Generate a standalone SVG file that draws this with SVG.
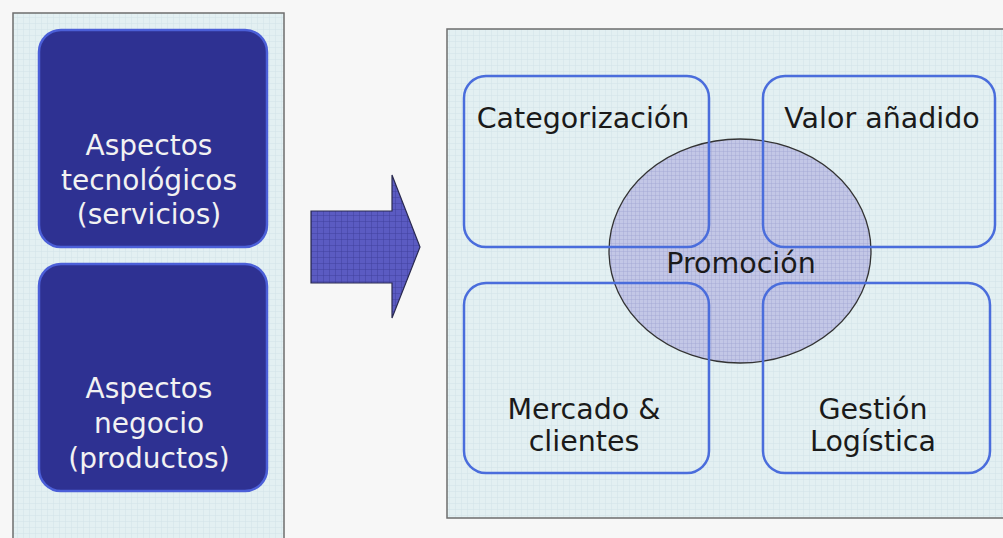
<svg xmlns="http://www.w3.org/2000/svg" width="1003" height="538" viewBox="0 0 1003 538">
  <defs>
    <pattern id="gridPanel" width="6" height="6" patternUnits="userSpaceOnUse">
      <rect width="6" height="6" fill="#e3f0f2"/>
      <path d="M6 0V6M0 6H6" stroke="#d2e3e8" stroke-width="1"/>
    </pattern>
    <pattern id="gridCircle" width="4" height="4" patternUnits="userSpaceOnUse">
      <rect width="4" height="4" fill="#c3c7e6"/>
      <path d="M4 0V4M0 4H4" stroke="#9ea3d2" stroke-width="0.8"/>
    </pattern>
    <pattern id="gridArrow" width="6" height="6" patternUnits="userSpaceOnUse">
      <rect width="6" height="6" fill="#5b5bc2"/>
      <path d="M6 0V6M0 6H6" stroke="#40409f" stroke-width="1"/>
    </pattern>
  </defs>
  <style>
    .panel { fill: url(#gridPanel); stroke: #6e6e6e; stroke-width: 1.5; }
    .dark { fill: #2e3192; stroke: #4b5fd8; stroke-width: 2.5; }
    .light { fill: none; stroke: #4a6ddc; stroke-width: 2.5; }
    .wt { font-family: "DejaVu Sans", Verdana, sans-serif; font-size: 28px; fill: #f2f2f2; text-anchor: middle; }
    .bt { font-family: "DejaVu Sans", Verdana, sans-serif; font-size: 28.5px; fill: #1a1a1a; text-anchor: middle; }
  </style>
  <rect width="1003" height="538" fill="#f7f7f7"/>

  <g id="left-panel">
    <rect class="panel" x="13" y="13" width="271" height="540"/>
  </g>

  <g id="node-tecnologicos">
    <rect class="dark" x="39" y="30" width="228" height="217" rx="22"/>
    <text class="wt" x="149" y="155">Aspectos</text>
    <text class="wt" x="149" y="190">tecnológicos</text>
    <text class="wt" x="149" y="224">(servicios)</text>
  </g>

  <g id="node-negocio">
    <rect class="dark" x="39" y="264" width="228" height="227" rx="22"/>
    <text class="wt" x="149" y="398">Aspectos</text>
    <text class="wt" x="149" y="433">negocio</text>
    <text class="wt" x="149" y="468">(productos)</text>
  </g>

  <g id="connectors">
    <polygon points="311,211 392,211 392,175 420,247 392,318 392,283 311,283" fill="url(#gridArrow)" stroke="#2a2a50" stroke-width="1.2"/>
  </g>

  <g id="right-panel">
    <rect class="panel" x="447" y="29" width="570" height="489"/>
  </g>

  <g id="node-promocion">
    <ellipse cx="740" cy="251" rx="131" ry="112" fill="url(#gridCircle)" stroke="#333333" stroke-width="1.3"/>
  </g>

  <g id="node-categorizacion">
    <rect class="light" x="464" y="76" width="245" height="171" rx="22"/>
    <text class="bt" x="583" y="128">Categorización</text>
  </g>

  <g id="node-valor">
    <rect class="light" x="763" y="76" width="232" height="171" rx="22"/>
    <text class="bt" x="882" y="128">Valor añadido</text>
  </g>

  <g id="node-mercado">
    <rect class="light" x="464" y="283" width="245" height="190" rx="22"/>
    <text class="bt" x="584" y="419">Mercado &amp;</text>
    <text class="bt" x="584" y="451">clientes</text>
  </g>

  <g id="node-gestion">
    <rect class="light" x="763" y="283" width="227" height="190" rx="22"/>
    <text class="bt" x="873" y="419">Gestión</text>
    <text class="bt" x="873" y="451">Logística</text>
  </g>

  <g id="label-promocion">
    <text class="bt" x="741" y="273">Promoción</text>
  </g>
</svg>
